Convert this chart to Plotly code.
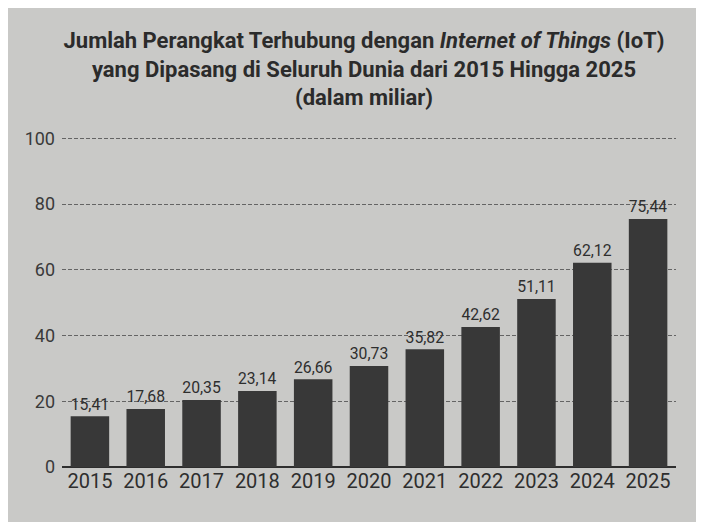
import plotly.graph_objects as go

years = ["2015", "2016", "2017", "2018", "2019", "2020", "2021", "2022", "2023", "2024", "2025"]
devices = [15.41, 17.68, 20.35, 23.14, 26.66, 30.73, 35.82, 42.62, 51.11, 62.12, 75.44]
y_ticks = [0, 20, 40, 60, 80, 100]

title_text = ("Jumlah Perangkat Terhubung dengan <i>Internet of Things</i> (IoT)<br>"
              "yang Dipasang di Seluruh Dunia dari 2015 Hingga 2025<br>"
              "(dalam miliar)")

fig = go.Figure()

fig.add_trace(go.Bar(
    x=years,
    y=devices,
    marker=dict(color='#383838', line=dict(width=0)),
    texttemplate='%{y:.2f}',
    textposition='outside',
    textfont=dict(family='Roboto', size=17, color='#2e2e2e'),
    cliponaxis=False,
))

# sedikit lebih besar dari jendela supaya latar abu-abu menutup sampai tepi
fig.update_layout(
    width=712,
    height=530,
    separators=',.',  # koma sebagai pemisah desimal
    title=dict(
        text=title_text,
        x=0.5, xanchor='center',
        y=0.924, yanchor='top',
        font=dict(family='Roboto', size=22, color='#2b2b2b', weight='bold'),
    ),
    paper_bgcolor='#c9c9c7',
    plot_bgcolor='#c9c9c7',
    margin=dict(l=54, r=44, t=129, b=71),
    bargap=0.31,
    showlegend=False,
    xaxis=dict(
        type='category',
        showgrid=False,
        showline=False,
        ticks='',
        tickfont=dict(family='Roboto', size=20, color='#2e2e2e'),
    ),
    yaxis=dict(
        range=[0, 100.4],
        tickvals=y_ticks,
        showgrid=True,
        gridcolor='#646464',
        gridwidth=1,
        griddash='4px,2px',
        zeroline=True,
        zerolinecolor='#2e2e2e',
        zerolinewidth=2,
        ticks='',
        ticklabelstandoff=6,
        tickfont=dict(family='Roboto', size=18, color='#3a3a3a'),
    ),
)

fig.write_html("out.html")
